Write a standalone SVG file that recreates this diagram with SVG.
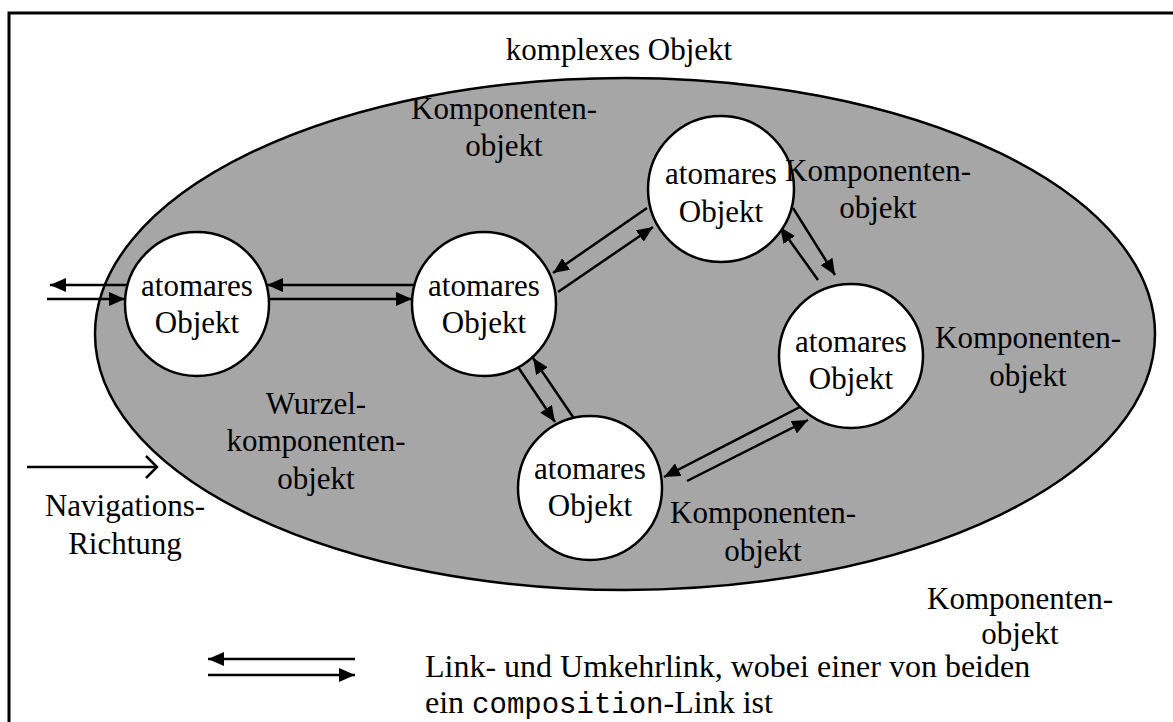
<svg xmlns="http://www.w3.org/2000/svg" width="1173" height="722" viewBox="0 0 1173 722">
  <defs>
    <marker id="head" markerUnits="userSpaceOnUse" markerWidth="18" markerHeight="14" refX="16" refY="7" orient="auto">
      <path d="M0,0 L16,7 L0,14 z" fill="#000"/>
    </marker>
    <style>
      .t { font-family: "Liberation Serif", "Times New Roman", serif; font-size: 31px; fill: #000; }
      .legend { font-size: 32px; }
      .mono { font-family: "Liberation Mono", "Courier New", monospace; font-size: 29px; }
      .node circle { fill: #fff; stroke: #000; stroke-width: 2.5; }
      .link { stroke: #000; stroke-width: 2.5; fill: none; marker-end: url(#head); }
    </style>
  </defs>

  <rect x="0" y="0" width="1173" height="722" fill="#fff"/>
  <!-- outer frame, open to the right and bottom -->
  <rect x="9" y="13" width="1300" height="900" fill="none" stroke="#000" stroke-width="3"/>

  <!-- complex object -->
  <g id="komplexes-objekt">
    <ellipse cx="625" cy="334" rx="530" ry="256" fill="#a6a6a6" stroke="#000" stroke-width="2.5"/>
    <text class="t" x="619" y="60" text-anchor="middle">komplexes Objekt</text>
  </g>

  <!-- link pairs -->
  <g id="connectors">
    <line class="link" x1="127" y1="285" x2="50" y2="285"/>
    <line class="link" x1="47" y1="299" x2="125" y2="299"/>
    <line class="link" x1="415" y1="285" x2="267" y2="285"/>
    <line class="link" x1="269" y1="299" x2="412" y2="299"/>
    <line class="link" x1="647" y1="208" x2="553" y2="273"/>
    <line class="link" x1="558" y1="292" x2="653" y2="227"/>
    <line class="link" x1="793" y1="208" x2="835" y2="275"/>
    <line class="link" x1="818" y1="280" x2="780" y2="227"/>
    <line class="link" x1="518" y1="367" x2="555" y2="422"/>
    <line class="link" x1="573" y1="417" x2="533" y2="358"/>
    <line class="link" x1="800" y1="407" x2="664" y2="477"/>
    <line class="link" x1="687" y1="481" x2="808" y2="420"/>
  </g>

  <g id="node-wurzel" class="node">
    <circle cx="197" cy="304" r="72"/>
    <text class="t" x="197" y="296" text-anchor="middle">atomares</text>
    <text class="t" x="197" y="333" text-anchor="middle">Objekt</text>
  </g>
  <g id="node-2" class="node">
    <circle cx="484" cy="304" r="72"/>
    <text class="t" x="484" y="296" text-anchor="middle">atomares</text>
    <text class="t" x="484" y="333" text-anchor="middle">Objekt</text>
  </g>
  <g id="node-3" class="node">
    <circle cx="721" cy="189" r="73"/>
    <text class="t" x="721" y="184" text-anchor="middle">atomares</text>
    <text class="t" x="721" y="222" text-anchor="middle">Objekt</text>
  </g>
  <g id="node-4" class="node">
    <circle cx="851" cy="356" r="72"/>
    <text class="t" x="851" y="352" text-anchor="middle">atomares</text>
    <text class="t" x="851" y="389" text-anchor="middle">Objekt</text>
  </g>
  <g id="node-5" class="node">
    <circle cx="590" cy="488" r="72"/>
    <text class="t" x="590" y="479" text-anchor="middle">atomares</text>
    <text class="t" x="590" y="516" text-anchor="middle">Objekt</text>
  </g>

  <!-- role labels -->
  <g id="labels">
    <text class="t" x="504" y="119" text-anchor="middle">Komponenten-</text>
    <text class="t" x="504" y="156" text-anchor="middle">objekt</text>
    <text class="t" x="878" y="181" text-anchor="middle">Komponenten-</text>
    <text class="t" x="878" y="218" text-anchor="middle">objekt</text>
    <text class="t" x="1028" y="348" text-anchor="middle">Komponenten-</text>
    <text class="t" x="1028" y="386" text-anchor="middle">objekt</text>
    <text class="t" x="316" y="414" text-anchor="middle">Wurzel-</text>
    <text class="t" x="316" y="451" text-anchor="middle">komponenten-</text>
    <text class="t" x="316" y="489" text-anchor="middle">objekt</text>
    <text class="t" x="763" y="523" text-anchor="middle">Komponenten-</text>
    <text class="t" x="763" y="561" text-anchor="middle">objekt</text>
    <text class="t" x="1020" y="609" text-anchor="middle">Komponenten-</text>
    <text class="t" x="1020" y="644" text-anchor="middle">objekt</text>
  </g>

  <!-- navigation direction -->
  <g id="navigation">
    <line x1="27" y1="467" x2="156" y2="467" stroke="#000" stroke-width="2.5"/>
    <polyline points="146,456 157,467 146,478" fill="none" stroke="#000" stroke-width="2.5"/>
    <text class="t" x="125" y="516" text-anchor="middle">Navigations-</text>
    <text class="t" x="125" y="554" text-anchor="middle">Richtung</text>
  </g>

  <!-- legend -->
  <g id="legend">
    <line class="link" x1="355" y1="659" x2="208" y2="659"/>
    <line class="link" x1="208" y1="675" x2="355" y2="675"/>
    <text class="t legend" x="425" y="677">Link- und Umkehrlink, wobei einer von beiden</text>
    <text class="t legend" x="425" y="713">ein <tspan class="mono">composition</tspan>-Link ist</text>
  </g>
</svg>
